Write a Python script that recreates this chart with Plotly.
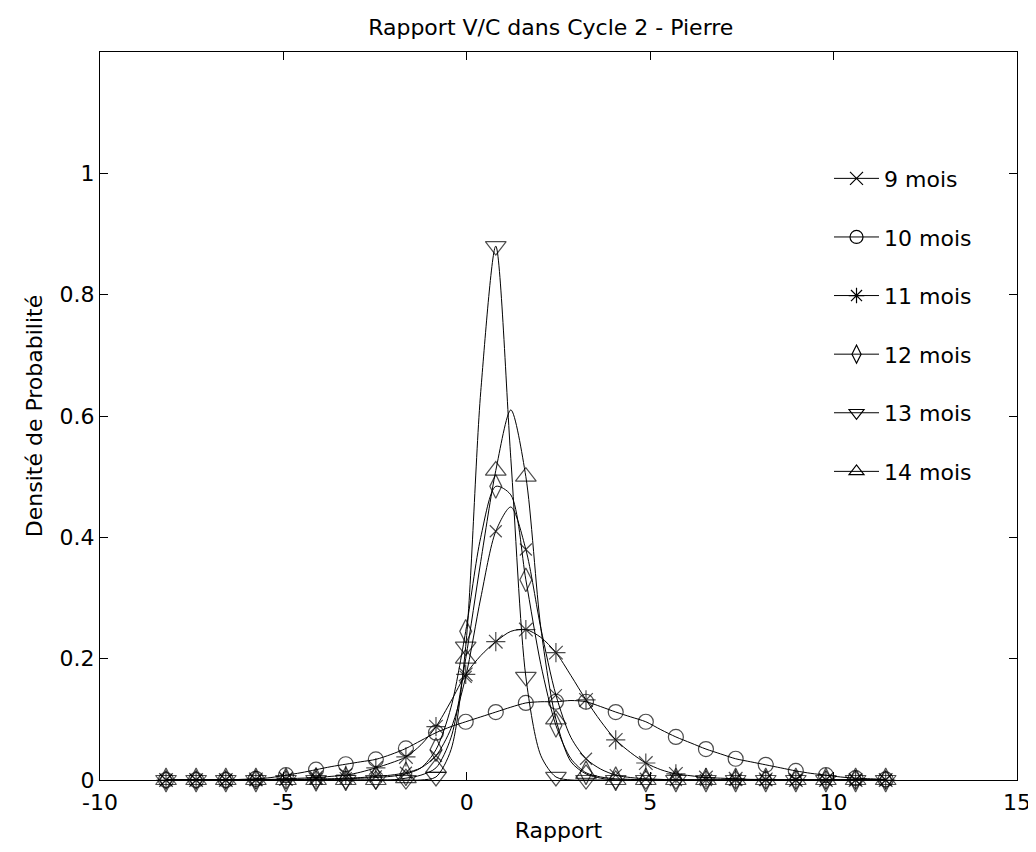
import plotly.graph_objects as go

# x positions (fine grid; every other point carries a marker)
x_vals = [-8.2, -7.79, -7.38, -6.97, -6.57, -6.16, -5.75, -5.34, -4.93, -4.52,
          -4.11, -3.70, -3.30, -2.89, -2.48, -2.07, -1.66, -1.25, -0.84, -0.43,
          -0.03, 0.38, 0.79, 1.20, 1.61, 2.02, 2.43, 2.84, 3.25, 3.65,
          4.06, 4.47, 4.88, 5.29, 5.70, 6.11, 6.52, 6.92, 7.33, 7.74,
          8.15, 8.56, 8.97, 9.38, 9.79, 10.19, 10.60, 11.01, 11.42]

mois_9 = [0, 0, 0, 0, 0, 0, 0, 0, 0.001, 0.001,
          0.002, 0.002, 0.003, 0.004, 0.006, 0.008, 0.012, 0.02, 0.04, 0.085,
          0.17, 0.30, 0.41, 0.45, 0.38, 0.25, 0.14, 0.07, 0.035, 0.018,
          0.008, 0.004, 0.002, 0.001, 0, 0, 0, 0, 0, 0,
          0, 0, 0, 0, 0, 0, 0, 0, 0]

mois_10 = [0, 0, 0, 0, 0, 0.001, 0.002, 0.004, 0.008, 0.012,
           0.017, 0.022, 0.026, 0.030, 0.034, 0.042, 0.052, 0.065, 0.078, 0.088,
           0.096, 0.104, 0.112, 0.120, 0.127, 0.129, 0.129, 0.131, 0.129, 0.121,
           0.112, 0.104, 0.096, 0.083, 0.071, 0.061, 0.051, 0.043, 0.035, 0.030,
           0.025, 0.020, 0.015, 0.011, 0.008, 0.005, 0.003, 0.002, 0.001]

mois_11 = [0, 0, 0, 0, 0, 0, 0.001, 0.001, 0.002, 0.003,
           0.004, 0.006, 0.008, 0.013, 0.020, 0.028, 0.038, 0.058, 0.088, 0.130,
           0.174, 0.205, 0.228, 0.245, 0.248, 0.235, 0.210, 0.172, 0.132, 0.097,
           0.066, 0.045, 0.028, 0.017, 0.010, 0.007, 0.004, 0.003, 0.002, 0.001,
           0.001, 0, 0, 0, 0, 0, 0, 0, 0]

mois_12 = [0, 0, 0, 0, 0, 0, 0, 0, 0, 0,
           0.001, 0.001, 0.002, 0.003, 0.004, 0.006, 0.010, 0.020, 0.050, 0.120,
           0.245, 0.400, 0.484, 0.470, 0.330, 0.190, 0.090, 0.035, 0.012, 0.005,
           0.002, 0.001, 0, 0, 0, 0, 0, 0, 0, 0,
           0, 0, 0, 0, 0, 0, 0, 0, 0]

mois_13 = [0, 0, 0, 0, 0, 0, 0, 0, 0, 0,
           0, 0, 0, 0, 0, 0, 0, 0, 0.005, 0.050,
           0.220, 0.640, 0.880, 0.530, 0.170, 0.040, 0.005, 0, 0, 0,
           0, 0, 0, 0, 0, 0, 0, 0, 0, 0,
           0, 0, 0, 0, 0, 0, 0, 0, 0]

mois_14 = [0, 0, 0, 0, 0, 0, 0, 0, 0, 0,
           0, 0, 0, 0, 0, 0, 0.003, 0.008, 0.020, 0.070,
           0.200, 0.360, 0.510, 0.610, 0.500, 0.250, 0.100, 0.030, 0.010, 0.003,
           0, 0, 0, 0, 0, 0, 0, 0, 0, 0,
           0, 0, 0, 0, 0, 0, 0, 0, 0]

x_ticks = [-10, -5, 0, 5, 10, 15]
x_ticklabels = ["-10", "-5", "0", "5", "10", "15"]
y_ticks = [0, 0.2, 0.4, 0.6, 0.8, 1]
y_ticklabels = ["0", "0.2", "0.4", "0.6", "0.8", "1"]

series_names = ["9 mois", "10 mois", "11 mois", "12 mois", "13 mois", "14 mois"]
series_values = [mois_9, mois_10, mois_11, mois_12, mois_13, mois_14]
symbols = ["x-thin-open", "circle-open", "asterisk-open", "diamond-tall-open",
           "triangle-down-open", "triangle-up-open"]
msize = [12, 15, 16, 17, 18, 18]

FONT = "DejaVu Sans"
FS = 22

fig = go.Figure()
for i, (name, vals) in enumerate(zip(series_names, series_values)):
    sizes = [msize[i] if j % 2 == 0 else 0 for j in range(len(vals))]
    fig.add_trace(go.Scatter(
        x=x_vals, y=vals, name=name, mode="lines+markers",
        line=dict(color="black", width=1, shape="spline", smoothing=0.8),
        marker=dict(symbol=symbols[i], size=sizes, color="black",
                    line=dict(color="black", width=1.2)),
        cliponaxis=False, legendgroup=name, showlegend=False,
    ))
    # legend entry
    fig.add_trace(go.Scatter(
        x=[None], y=[None], name=name, mode="lines+markers",
        line=dict(color="black", width=1),
        marker=dict(symbol=symbols[i], size=13, color="black",
                    line=dict(color="black", width=1.2)),
        legendgroup=name, showlegend=True,
    ))

fig.update_layout(
    width=1028, height=836,
    margin=dict(l=92, r=19, t=44, b=64),
    paper_bgcolor="white", plot_bgcolor="white",
    font=dict(family=FONT, size=FS, color="black"),
    title=dict(text="Rapport V/C dans Cycle 2 - Pierre", x=0.528, xanchor="center",
               yref="container", y=1 - 19 / 836, yanchor="middle",
               font=dict(family=FONT, size=FS)),
    showlegend=True,
    legend=dict(x=0.795, y=0.855, xanchor="left", yanchor="top",
                bgcolor="rgba(0,0,0,0)", borderwidth=0,
                font=dict(family=FONT, size=FS), tracegroupgap=27,
                itemwidth=45),
)
fig.update_xaxes(range=[-10, 15], tickvals=x_ticks, ticktext=x_ticklabels,
                 ticks="inside", ticklen=8, tickcolor="black",
                 showline=True, linecolor="black", linewidth=1, mirror="ticks",
                 showgrid=False, zeroline=False, automargin=False,
                 ticklabeloverflow="allow", ticklabelstandoff=3,
                 tickfont=dict(family=FONT, size=FS),
                 title=dict(text="Rapport", font=dict(family=FONT, size=FS), standoff=8))
fig.update_yaxes(range=[0, 1.2], tickvals=y_ticks, ticktext=y_ticklabels,
                 ticks="inside", ticklen=8, tickcolor="black",
                 showline=True, linecolor="black", linewidth=1, mirror="ticks",
                 showgrid=False, zeroline=False, automargin=False,
                 ticklabeloverflow="allow",
                 tickfont=dict(family=FONT, size=FS),
                 title=dict(text="Densité de Probabilité", font=dict(family=FONT, size=FS), standoff=10))

fig.write_html("out.html")
